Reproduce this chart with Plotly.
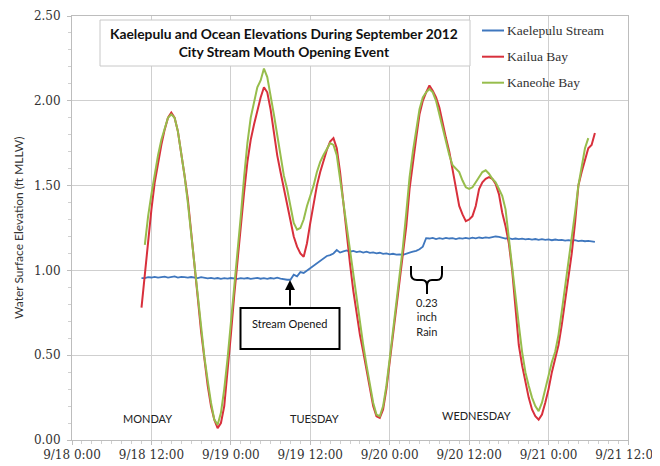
import pandas as pd
import plotly.graph_objects as go

# ---------------- data (half-hourly readings) ----------------
BASE = pd.Timestamp("2012-09-18 00:00")

stream_start_h = 10.5
stream_vals = [
    0.955, 0.955, 0.960, 0.958, 0.962, 0.957, 0.960, 0.963, 0.958, 0.960, 0.965, 0.958,   # 10.5-16.0
    0.962, 0.960, 0.957, 0.961, 0.958, 0.955, 0.960, 0.957, 0.953, 0.956, 0.952, 0.955,   # 16.5-22.0
    0.950, 0.954, 0.951, 0.955, 0.952, 0.950, 0.954, 0.951, 0.955, 0.950, 0.953, 0.956,   # 22.5-28.0
    0.951, 0.954, 0.950, 0.955, 0.952, 0.957, 0.952, 0.948, 0.945, 0.945, 0.975, 0.965,   # 28.5-34.0
    0.990, 0.985, 1.000, 1.010, 1.030, 1.045, 1.060, 1.070, 1.085, 1.090, 1.100, 1.120,   # 34.5-40.0
    1.105, 1.112, 1.118, 1.110, 1.115, 1.108, 1.112, 1.105, 1.110, 1.103, 1.106, 1.100,   # 40.5-46.0
    1.104, 1.098, 1.100, 1.095, 1.098, 1.093, 1.095, 1.092, 1.100, 1.105, 1.110, 1.115,   # 46.5-52.0
    1.125, 1.140, 1.190, 1.188, 1.192, 1.185, 1.190, 1.186, 1.192, 1.188, 1.190, 1.185,   # 52.5-58.0
    1.190, 1.187, 1.192, 1.188, 1.193, 1.189, 1.194, 1.190, 1.195, 1.192, 1.196, 1.200,   # 58.5-64.0
    1.198, 1.192, 1.188, 1.190, 1.185, 1.188, 1.184, 1.187, 1.183, 1.186, 1.182, 1.185,   # 64.5-70.0
    1.180, 1.184, 1.180, 1.183, 1.178, 1.182, 1.178, 1.180, 1.176, 1.179, 1.175, 1.178,   # 70.5-76.0
    1.173, 1.176, 1.172, 1.174, 1.170, 1.168,                                             # 76.5-79.0
]

kailua_start_h = 10.5
kailua_vals = [
    0.78, 0.98, 1.18, 1.36, 1.52, 1.64, 1.74, 1.83, 1.90, 1.93, 1.90, 1.82,   # 10.5-16.0
    1.70, 1.56, 1.42, 1.24, 1.05, 0.84, 0.64, 0.46, 0.32, 0.20, 0.12, 0.07,   # 16.5-22.0
    0.10, 0.20, 0.40, 0.62, 0.85, 1.06, 1.25, 1.46, 1.64, 1.77, 1.86, 1.94,   # 22.5-28.0
    2.02, 2.08, 2.05, 1.95, 1.80, 1.68, 1.58, 1.48, 1.38, 1.28, 1.20, 1.14,   # 28.5-34.0
    1.10, 1.08, 1.16, 1.28, 1.40, 1.50, 1.58, 1.65, 1.71, 1.76, 1.78, 1.72,   # 34.5-40.0
    1.58, 1.40, 1.20, 1.04, 0.88, 0.74, 0.62, 0.52, 0.42, 0.30, 0.20, 0.14,   # 40.5-46.0
    0.13, 0.18, 0.30, 0.46, 0.62, 0.78, 0.92, 1.08, 1.26, 1.48, 1.64, 1.78,   # 46.5-52.0
    1.92, 2.00, 2.05, 2.09, 2.06, 2.02, 1.96, 1.86, 1.78, 1.70, 1.60, 1.50,   # 52.5-58.0
    1.38, 1.33, 1.29, 1.30, 1.32, 1.38, 1.48, 1.52, 1.54, 1.55, 1.54, 1.51,   # 58.5-64.0
    1.45, 1.34, 1.26, 1.16, 1.00, 0.78, 0.56, 0.44, 0.34, 0.25, 0.18, 0.14,   # 64.5-70.0
    0.12, 0.15, 0.22, 0.30, 0.40, 0.48, 0.56, 0.68, 0.82, 0.96, 1.10, 1.28,   # 70.5-76.0
    1.50, 1.58, 1.65, 1.72, 1.74, 1.81,                                       # 76.5-79.0
]

kaneohe_start_h = 11.0
kaneohe_vals = [
    1.15, 1.32, 1.45, 1.57, 1.68, 1.77, 1.84, 1.90, 1.92, 1.90, 1.82,         # 11.0-16.0
    1.70, 1.56, 1.40, 1.22, 1.03, 0.84, 0.66, 0.49, 0.35, 0.22, 0.12, 0.09,   # 16.5-22.0
    0.16, 0.30, 0.48, 0.68, 0.90, 1.10, 1.32, 1.55, 1.75, 1.90, 2.00, 2.08,   # 22.5-28.0
    2.12, 2.19, 2.14, 2.04, 1.92, 1.80, 1.68, 1.56, 1.48, 1.38, 1.28, 1.24,   # 28.5-34.0
    1.25, 1.30, 1.38, 1.44, 1.50, 1.58, 1.64, 1.68, 1.72, 1.75, 1.74, 1.68,   # 34.5-40.0
    1.54, 1.40, 1.24, 1.10, 0.96, 0.82, 0.68, 0.56, 0.44, 0.32, 0.22, 0.15,   # 40.5-46.0
    0.14, 0.20, 0.32, 0.48, 0.64, 0.80, 0.96, 1.14, 1.34, 1.55, 1.70, 1.84,   # 46.5-52.0
    1.95, 2.02, 2.05, 2.07, 2.05, 2.00, 1.92, 1.84, 1.76, 1.68, 1.62, 1.60,   # 52.5-58.0
    1.58, 1.53, 1.49, 1.48, 1.49, 1.52, 1.55, 1.58, 1.59, 1.57, 1.54, 1.52,   # 58.5-64.0
    1.48, 1.44, 1.36, 1.18, 1.00, 0.84, 0.68, 0.52, 0.40, 0.32, 0.25, 0.20,   # 64.5-70.0
    0.17, 0.22, 0.30, 0.38, 0.46, 0.52, 0.62, 0.76, 0.90, 1.06, 1.20, 1.34,   # 70.5-76.0
    1.50, 1.62, 1.72, 1.78,                                                   # 76.5-78.0
]

series_names = ["Kaelepulu Stream", "Kailua Bay", "Kaneohe Bay"]
series_colors = ["#3F77BE", "#D8303C", "#97BD4C"]
series_widths = [1.8, 2, 2]

x_tick_hours = [0, 12, 24, 36, 48, 60, 72, 84]
x_tick_labels = ["9/18 0:00", "9/18 12:00", "9/19 0:00", "9/19 12:00",
                 "9/20 0:00", "9/20 12:00", "9/21 0:00", "9/21 12:00"]
y_tick_vals = [0.0, 0.5, 1.0, 1.5, 2.0, 2.5]
y_tick_labels = ["0.00", "0.50", "1.00", "1.50", "2.00", "2.50"]

day_labels = ["MONDAY", "TUESDAY", "WEDNESDAY"]

# ---------------- figure ----------------
PAGE_OFF = 8                 # default body margin of the written html page
W, H = 660 - PAGE_OFF, 466 - PAGE_OFF
L, R, T, B = 72, 628, 16, 440  # plot area in screen pixels

SERIF_LEG = "Liberation Serif, Tinos, Times New Roman, serif"


def times(start_h, n):
    return pd.date_range(BASE + pd.Timedelta(hours=start_h), periods=n, freq="30min")


def px(xp):
    return (xp - L) / (R - L)


def py(yp):
    return (B - yp) / (B - T)


fig = go.Figure()
for name, col, lw, sh, vals in zip(series_names, series_colors, series_widths,
                                    [stream_start_h, kailua_start_h, kaneohe_start_h],
                                    [stream_vals, kailua_vals, kaneohe_vals]):
    fig.add_trace(go.Scatter(x=times(sh, len(vals)), y=vals, mode="lines", name=name,
                             line=dict(color=col, width=lw), showlegend=False))

grid = "#CFCFCF"
fig.update_layout(
    width=W, height=H,
    margin=dict(l=L - PAGE_OFF, r=W - (R - PAGE_OFF), t=T - PAGE_OFF, b=H - (B - PAGE_OFF),
                pad=0, autoexpand=False),
    paper_bgcolor="white", plot_bgcolor="white",
    xaxis=dict(
        range=[BASE, BASE + pd.Timedelta(hours=84)],
        tickvals=[BASE + pd.Timedelta(hours=h) for h in x_tick_hours],
        ticktext=x_tick_labels,
        ticklabeloverflow="allow",
        automargin=False,
        showgrid=True, gridcolor=grid, gridwidth=1,
        showline=True, linecolor="#BDBDBD", linewidth=1, mirror=True,
        ticks="outside", ticklen=4, tickcolor="#BDBDBD",
        minor=dict(dtick=5400000, ticks="outside", ticklen=3, tickcolor="#D0D0D0", showgrid=False),
        tickfont=dict(family="DejaVu Serif", size=12, color="#333333"),
        zeroline=False,
    ),
    yaxis=dict(
        range=[0, 2.5],
        tickvals=y_tick_vals, ticktext=y_tick_labels,
        automargin=False,
        showgrid=True, gridcolor=grid, gridwidth=1,
        showline=True, linecolor="#BDBDBD", linewidth=1, mirror=True,
        ticks="outside", ticklen=4, tickcolor="#BDBDBD",
        minor=dict(dtick=0.1, ticks="outside", ticklen=3, tickcolor="#D0D0D0", showgrid=False),
        tickfont=dict(family="DejaVu Serif", size=12, color="#333333"),
        ticklabelstandoff=4,
        zeroline=False,
    ),
)

shapes = []
ann = []

# title box
shapes.append(dict(type="rect", xref="paper", yref="paper",
                   x0=px(100), x1=px(470), y0=py(66), y1=py(20),
                   fillcolor="white", line=dict(color="#C8C8C8", width=1), layer="above"))
ann.append(dict(xref="paper", yref="paper", x=px(284), y=py(43),
                text="<b>Kaelepulu and Ocean Elevations During September 2012<br>City Stream Mouth Opening Event</b>",
                showarrow=False, xanchor="center", yanchor="middle", align="center",
                font=dict(family="Lato", size=13.8, color="#111111")))

# manual legend
leg_y = [30.5, 56.7, 82.7]
for name, col, lw, yy in zip(series_names, series_colors, series_widths, leg_y):
    shapes.append(dict(type="line", xref="paper", yref="paper",
                       x0=px(482), x1=px(504), y0=py(yy), y1=py(yy),
                       line=dict(color=col, width=2)))
    ann.append(dict(xref="paper", yref="paper", x=px(505), y=py(yy), text=name,
                    showarrow=False, xanchor="left", yanchor="middle",
                    font=dict(family=SERIF_LEG, size=13.5, color="#333333")))

# y axis title
ann.append(dict(xref="paper", yref="paper", x=px(18), y=py(228),
                text="Water Surface Elevation (ft MLLW)", textangle=-90,
                showarrow=False, xanchor="center", yanchor="middle",
                font=dict(family="Lato", size=12, color="#333333")))

# day labels
for lab, xx, yy in zip(day_labels, [147, 314, 476], [418, 418, 415]):
    ann.append(dict(xref="paper", yref="paper", x=px(xx), y=py(yy), text=lab,
                    showarrow=False, xanchor="center", yanchor="middle",
                    font=dict(family="Lato", size=11, color="#222222")))

# Stream Opened box + arrow
shapes.append(dict(type="rect", xref="paper", yref="paper",
                   x0=px(240.5), x1=px(339.5), y0=py(349), y1=py(308),
                   fillcolor="white", line=dict(color="black", width=2), layer="above"))
ann.append(dict(xref="paper", yref="paper", x=px(289.5), y=py(323.5), text="Stream Opened",
                showarrow=False, xanchor="center", yanchor="middle",
                font=dict(family="Lato", size=11, color="#111111")))
ann.append(dict(xref="paper", yref="paper", axref="pixel", ayref="pixel",
                x=px(290), y=py(280), ax=0, ay=27, text="", showarrow=True,
                arrowhead=2, arrowsize=1, arrowwidth=2, arrowcolor="black", standoff=0))


# brace for rain
def P(x, y):
    return f"{px(x):.5f},{py(y):.5f}"


brace = ("M " + P(411, 266) + " L " + P(411, 274) + " Q " + P(411, 280) + " " + P(417, 280) +
         " L " + P(422, 280) + " Q " + P(427, 280) + " " + P(427, 286) + " L " + P(427, 294) +
         " M " + P(427, 286) + " Q " + P(427, 280) + " " + P(432, 280) + " L " + P(437, 280) +
         " Q " + P(442, 280) + " " + P(442, 274) + " L " + P(442, 266))
shapes.append(dict(type="path", xref="paper", yref="paper", path=brace,
                   line=dict(color="black", width=2)))
ann.append(dict(xref="paper", yref="paper", x=px(426.5), y=py(316.5),
                text="0.23<br>inch<br>Rain", showarrow=False, xanchor="center", yanchor="middle",
                align="center", font=dict(family="Lato", size=11, color="#222222")))

fig.update_layout(shapes=shapes, annotations=ann)
fig.write_html("out.html")
